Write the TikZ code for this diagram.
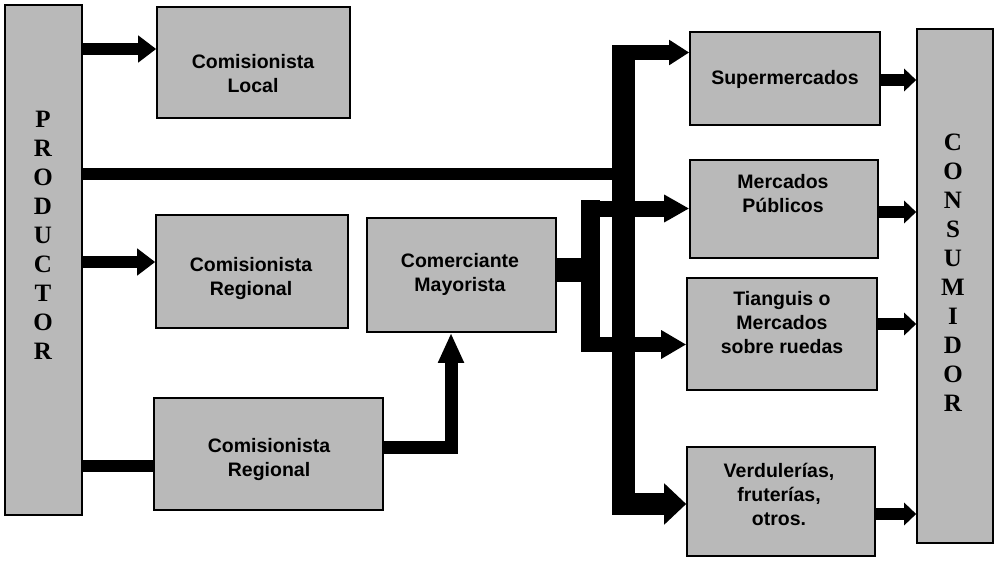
\documentclass[tikz,border=0pt]{standalone}
\usepackage{fontspec}
\setmainfont{Liberation Sans}
\newfontfamily\serifb{Liberation Serif}
\usetikzlibrary{arrows.meta}
\definecolor{boxgray}{RGB}{185,185,185}
\begin{document}
\begin{tikzpicture}[x=1pt,y=-1pt,
  box/.style={draw=black,line width=1.6pt,fill=boxgray,inner sep=0pt,rectangle},
  lbl/.style={font=\bfseries\fontsize{19.5}{24}\selectfont,align=center,inner sep=0pt},
  vlet/.style={font=\serifb\bfseries\fontsize{25}{29}\selectfont,align=center,inner sep=0pt},
  thin arrow/.style={line width=12pt,-{Triangle[length=18pt,width=26pt]}},
  cons arrow/.style={line width=12pt,-{Triangle[length=12pt,width=22pt]}},
  bar/.style={line width=#1,line join=miter}
]
\useasboundingbox (0,0) rectangle (996,560);

% boxes
\node[box,minimum width=77pt,minimum height=510pt] (prod) at (43.5,260) {};
\node[box,minimum width=193pt,minimum height=111pt] (loc) at (253.5,62.5) {};
\node[box,minimum width=192pt,minimum height=113pt] (reg1) at (252,271.5) {};
\node[box,minimum width=229pt,minimum height=112pt] (reg2) at (268.5,454) {};
\node[box,minimum width=189pt,minimum height=114pt] (maj) at (461.5,275) {};
\node[box,minimum width=190pt,minimum height=93pt] (sup) at (785,78.5) {};
\node[box,minimum width=188pt,minimum height=98pt] (mer) at (784,209) {};
\node[box,minimum width=190pt,minimum height=112pt] (tia) at (782,334) {};
\node[box,minimum width=188pt,minimum height=109pt] (ver) at (781,501.5) {};
\node[box,minimum width=76pt,minimum height=514pt] (cons) at (955,286) {};

% labels
\node[vlet] (prodt) at (43,235) {P\\R\\O\\D\\U\\C\\T\\O\\R};
\node[vlet] (const) at (953,273) {C\\O\\N\\S\\U\\M\\I\\D\\O\\R};
\node[lbl] (loct) at (253,74) {Comisionista\\Local};
\node[lbl] (reg1t) at (251,278) {Comisionista\\Regional};
\node[lbl] (reg2t) at (269,459) {Comisionista\\Regional};
\node[lbl] (majt) at (460,274) {Comerciante\\Mayorista};
\node[lbl] (supt) at (785,79) {Supermercados};
\node[lbl] (mert) at (783,194) {Mercados\\Públicos};
\node[lbl] (tiat) at (782,323) {Tianguis o\\Mercados\\sobre ruedas};
\node[lbl] (vert) at (779,494) {Verdulerías,\\fruterías,\\otros.};

% junction coordinates
\coordinate (bartop) at (623.5,45);
\coordinate (barbot) at (623.5,515);
\coordinate (pj) at (623.5,174);
\coordinate (b2top) at (590.5,200);
\coordinate (b2bot) at (590.5,352);
\coordinate (mj) at (600,270);
\coordinate (rj) at (451,447);

% producer arrows
\draw[thin arrow] (prod.east |- 0,49) -- (loc.west |- 0,49);
\draw[thin arrow] (prod.east |- 0,262) -- (reg1.west |- 0,262);
\draw[bar=12pt] (prod.east |- 0,466) -- (reg2.west |- 0,466);
\draw[bar=12pt] (prod.east |- 0,174) -- (pj);

% main vertical bar
\draw[bar=23pt] (bartop) -- (barbot);
\draw[line width=15pt,-{Triangle[length=20pt,width=24pt]}] (612,52.5) -- (sup.west |- 0,52.5);
\draw[line width=22pt,-{Triangle[length=22pt,width=40pt]}] (612,504) -- (ver.west |- 0,504);

% mayorista branch
\draw[bar=24pt] (maj.east |- 0,270) -- (mj);
\draw[bar=19pt] (b2top) -- (b2bot);
\draw[line width=16pt,-{Triangle[length=25pt,width=26pt]}] (581,208.5) -- (mer.west |- 0,208.5);
\draw[line width=15pt,-{Triangle[length=25pt,width=27pt]}] (581,344.5) -- (tia.west |- 0,344.5);

% regional 2 to mayorista
\draw[line width=13pt,line join=miter,-{Triangle[length=30pt,width=24pt]}] (reg2.east |- rj) -| (maj.south -| rj);

% to consumer
\draw[cons arrow] (sup.east |- 0,80) -- (cons.west |- 0,80);
\draw[cons arrow] (mer.east |- 0,212) -- (cons.west |- 0,212);
\draw[cons arrow] (tia.east |- 0,324) -- (cons.west |- 0,324);
\draw[cons arrow] (ver.east |- 0,514) -- (cons.west |- 0,514);
\end{tikzpicture}
\end{document}
